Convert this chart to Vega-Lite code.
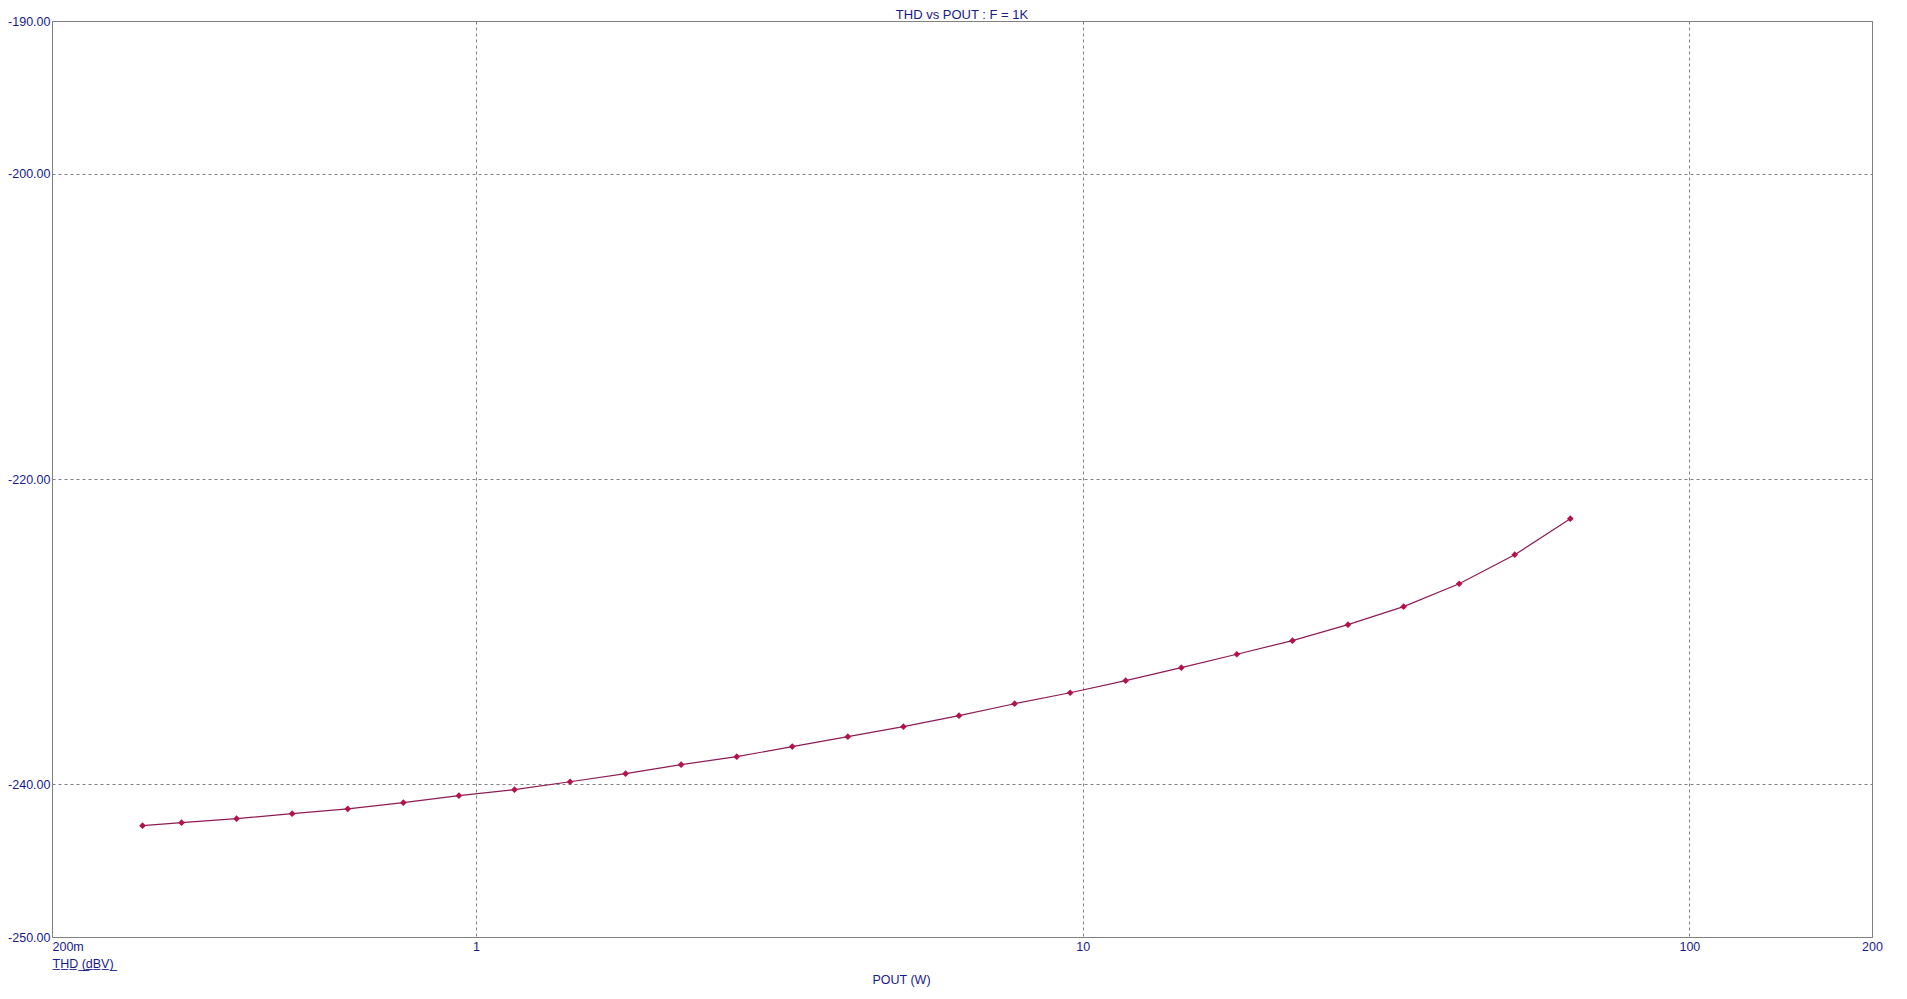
{
  "$schema": "https://vega.github.io/schema/vega-lite/v6.json",
  "width": 1820,
  "height": 916,
  "autosize": {"type": "none"},
  "padding": {"left": 52, "top": 21, "right": 35, "bottom": 62},
  "background": "white",
  "title": {
    "text": "THD vs POUT : F = 1K",
    "anchor": "middle",
    "offset": -7,
    "font": "Liberation Sans",
    "fontSize": 13,
    "fontWeight": "normal",
    "color": "#1a1a8a"
  },
  "config": {
    "view": {"stroke": "#808080", "strokeWidth": 1},
    "axis": {
      "labelFont": "Liberation Sans",
      "labelFontSize": 12.5,
      "labelColor": "#1a1a8a",
      "titleFont": "Liberation Sans",
      "titleFontSize": 12.5,
      "titleFontWeight": "normal",
      "titleColor": "#1a1a8a",
      "domain": false,
      "ticks": false,
      "gridColor": "#808080",
      "gridDash": [3, 3],
      "gridWidth": 1,
      "gridOpacity": 1,
      "labelFlush": false,
      "labelOverlap": false
    }
  },
  "data": {
    "values": [
      {"pout": 0.282, "thd": -242.71},
      {"pout": 0.327, "thd": -242.51},
      {"pout": 0.403, "thd": -242.25},
      {"pout": 0.4976, "thd": -241.92},
      {"pout": 0.6145, "thd": -241.61},
      {"pout": 0.7588, "thd": -241.2},
      {"pout": 0.937, "thd": -240.74},
      {"pout": 1.157, "thd": -240.35},
      {"pout": 1.429, "thd": -239.83},
      {"pout": 1.764, "thd": -239.3},
      {"pout": 2.178, "thd": -238.71},
      {"pout": 2.69, "thd": -238.19},
      {"pout": 3.321, "thd": -237.53},
      {"pout": 4.101, "thd": -236.88},
      {"pout": 5.064, "thd": -236.22},
      {"pout": 6.253, "thd": -235.5},
      {"pout": 7.722, "thd": -234.72},
      {"pout": 9.535, "thd": -234.0},
      {"pout": 11.77, "thd": -233.21},
      {"pout": 14.54, "thd": -232.36},
      {"pout": 17.95, "thd": -231.48},
      {"pout": 22.17, "thd": -230.59},
      {"pout": 27.37, "thd": -229.54},
      {"pout": 33.8, "thd": -228.36},
      {"pout": 41.74, "thd": -226.86},
      {"pout": 51.54, "thd": -224.96},
      {"pout": 63.64, "thd": -222.6}
    ]
  },
  "encoding": {
    "x": {
      "field": "pout",
      "type": "quantitative",
      "scale": {"type": "log", "domain": [0.2, 200], "nice": false},
      "axis": {
        "values": [0.2, 1, 10, 100, 200],
        "labelExpr": "datum.value < 0.5 ? '200m' : toString(datum.value)",
        "labelAlign": {"condition": {"test": "datum.value < 0.5", "value": "left"}, "value": "center"},
        "labelPadding": 3,
        "title": "POUT (W)",
        "titleX": 849,
        "titleY": 42,
        "titleBaseline": "middle",
        "titleAlign": "center"
      }
    },
    "y": {
      "field": "thd",
      "type": "quantitative",
      "scale": {"domain": [-250, -190], "nice": false, "zero": false},
      "axis": {
        "values": [-190, -200, -220, -240, -250],
        "labelExpr": "'-' + format(abs(datum.value), '.2f')",
        "labelPadding": 2,
        "title": "T\u0332H\u0332D\u0332 \u0332(\u0332d\u0332B\u0332V\u0332)\u0332",
        "titleAngle": 0,
        "titleAlign": "left",
        "titleBaseline": "middle",
        "titleX": 0,
        "titleY": 942
      }
    }
  },
  "layer": [
    {"mark": {"type": "line", "color": "#8e1c54", "strokeWidth": 1.2}},
    {"mark": {"type": "point", "shape": "diamond", "filled": true, "size": 45, "color": "#b3124d", "opacity": 1}}
  ]
}
